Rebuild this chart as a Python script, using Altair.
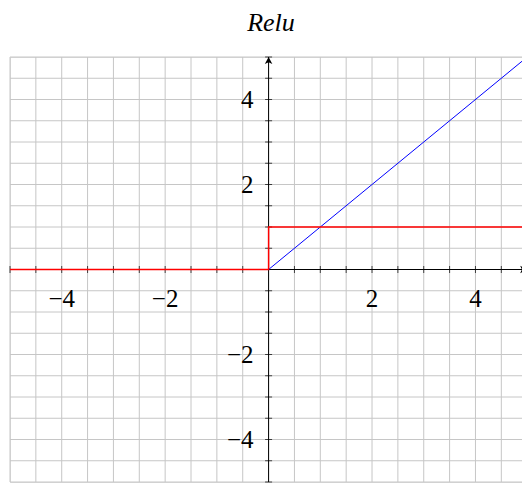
import altair as alt
import pandas as pd

# ReLU and its derivative, sampled at the break points
relu_x = [-5, 0, 5]
relu_y = [0, 0, 5]
deriv_x = [-5, 0, 0, 5]
deriv_y = [0, 0, 1, 1]

# grid / tick positions and labelled values
grid_vals = [v / 2 for v in range(-10, 11)]
label_vals = [-4, -2, 2, 4]
label_text = ["\u22124", "\u22122", "2", "4"]
axis_min, axis_max = -5, 5

SERIF = "Liberation Serif"

xs = alt.Scale(domain=[-5, 4.9], nice=False, zero=False)
ys = alt.Scale(domain=[-5, 5], nice=False, zero=False)
no_axis = None

relu_df = pd.DataFrame({"x": relu_x, "y": relu_y})
deriv_df = pd.DataFrame({"x": deriv_x, "y": deriv_y, "o": list(range(len(deriv_x)))})
grid_df = pd.DataFrame({"v": grid_vals})
tick_df = pd.DataFrame({"v": [v for v in grid_vals if v != 0], "z": 0})
lab_df = pd.DataFrame({"v": label_vals, "t": label_text, "z": 0})

GRID = "#c6c6c6"

# background grid, one rule per half unit
vgrid = alt.Chart(grid_df).mark_rule(color=GRID, strokeWidth=1).encode(
    x=alt.X("v:Q", scale=xs, axis=no_axis))
hgrid = alt.Chart(grid_df).mark_rule(color=GRID, strokeWidth=1).encode(
    y=alt.Y("v:Q", scale=ys, axis=no_axis))

# axis lines through the origin
ext_df = pd.DataFrame({"a": [axis_min], "b": [axis_max], "z": [0]})
xaxis_line = alt.Chart(ext_df).mark_rule(color="black", strokeWidth=1).encode(
    x=alt.X("a:Q", scale=xs, axis=no_axis), x2="b:Q", y=alt.Y("z:Q", scale=ys, axis=no_axis))
yaxis_line = alt.Chart(ext_df).mark_rule(color="black", strokeWidth=1).encode(
    y=alt.Y("a:Q", scale=ys, axis=no_axis), y2="b:Q", x=alt.X("z:Q", scale=xs, axis=no_axis))

# small tick marks on both axes
xticks = alt.Chart(tick_df).mark_tick(color="black", orient="vertical", size=7, thickness=1).encode(
    x=alt.X("v:Q", scale=xs, axis=no_axis), y=alt.Y("z:Q", scale=ys, axis=no_axis))
yticks = alt.Chart(tick_df).mark_tick(color="black", orient="horizontal", size=7, thickness=1).encode(
    y=alt.Y("v:Q", scale=ys, axis=no_axis), x=alt.X("z:Q", scale=xs, axis=no_axis))

# tick labels
xlabels = alt.Chart(lab_df).mark_text(font=SERIF, fontSize=25, color="black", align="center",
                                      baseline="top", dy=17).encode(
    x=alt.X("v:Q", scale=xs, axis=no_axis), y=alt.Y("z:Q", scale=ys, axis=no_axis), text="t:N")
ylabels = alt.Chart(lab_df).mark_text(font=SERIF, fontSize=25, color="black", align="right",
                                      baseline="middle", dx=-15).encode(
    y=alt.Y("v:Q", scale=ys, axis=no_axis), x=alt.X("z:Q", scale=xs, axis=no_axis), text="t:N")

# arrow heads at the positive ends of the axes
up_arrow = "M0,0 L0.75,1.4 L0,1.05 L-0.75,1.4 Z"
right_arrow = "M0,0 L-1.4,-0.75 L-1.05,0 L-1.4,0.75 Z"
arrow_up = alt.Chart(pd.DataFrame({"x": [0], "y": [axis_max]})).mark_point(
    shape=up_arrow, filled=True, color="black", size=100, opacity=1).encode(
    x=alt.X("x:Q", scale=xs, axis=no_axis), y=alt.Y("y:Q", scale=ys, axis=no_axis))
arrow_right = alt.Chart(pd.DataFrame({"x": [axis_max], "y": [0]})).mark_point(
    shape=right_arrow, filled=True, color="black", size=100, opacity=1).encode(
    x=alt.X("x:Q", scale=xs, axis=no_axis), y=alt.Y("y:Q", scale=ys, axis=no_axis))

relu_line = alt.Chart(relu_df).mark_line(color="#0000ff", strokeWidth=1).encode(
    x=alt.X("x:Q", scale=xs, axis=no_axis), y=alt.Y("y:Q", scale=ys, axis=no_axis))
deriv_line = alt.Chart(deriv_df).mark_line(color="#ff0000", strokeWidth=1.5).encode(
    x=alt.X("x:Q", scale=xs, axis=no_axis), y=alt.Y("y:Q", scale=ys, axis=no_axis), order="o:Q")

chart = alt.layer(
    vgrid, hgrid, xaxis_line, yaxis_line, xticks, yticks, xlabels, ylabels,
    relu_line, deriv_line, arrow_up, arrow_right,
).properties(
    width=512,
    height=425,
    title=alt.TitleParams("Relu", font=SERIF, fontStyle="italic", fontWeight="normal",
                          fontSize=26, color="black", anchor="middle", offset=19, dx=5),
    autosize=alt.AutoSizeParams(type="none"),
    padding={"left": 10, "top": 57, "right": 0, "bottom": 1},
).configure_view(stroke=None).configure(background="white")

chart.save("out.html", embed_options={"renderer": "svg", "actions": False})
